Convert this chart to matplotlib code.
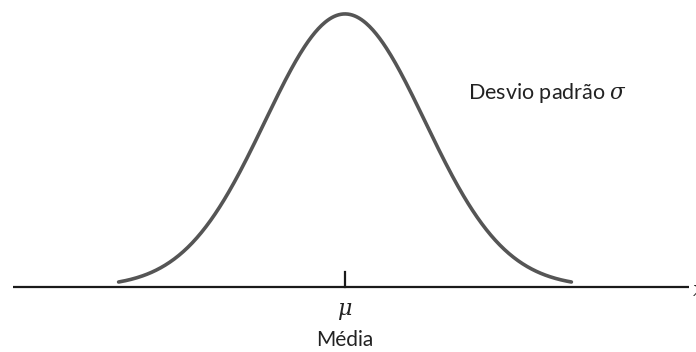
import numpy as np
import matplotlib
matplotlib.use("Agg")
import matplotlib.pyplot as plt

plt.rcParams["mathtext.fontset"] = "dejavuserif"

# normal curve parameters (standard units)
mu = 0.0
sigma = 1.0
z_span = [-2.83, 2.83]

axis_span = [-4.15, 4.3]
tick_height = 0.022

label_sigma = r"Desvio padrão $\sigma$"
label_mu = r"$\mu$"
label_mean = "Média"
label_x = r"$x$"

z = np.linspace(z_span[0], z_span[1], 400)
pdf = np.exp(-0.5 * ((z - mu) / sigma) ** 2) / (sigma * np.sqrt(2 * np.pi))

fig = plt.figure(figsize=(6.96, 3.52), dpi=100)
ax = fig.add_axes([0, 0, 1, 1])
ax.set_xlim(-4.3125, 4.3875)
ax.set_ylim(-0.095, 0.4193)
ax.axis("off")

# horizontal axis and mean tick
ax.plot(axis_span, [0, 0], color="#1a1a1a", lw=1.6, solid_capstyle="butt")
ax.plot([mu, mu], [0, tick_height], color="#1a1a1a", lw=1.6)

# bell curve
ax.plot(z, pdf, color="#555555", lw=2.6, solid_capstyle="round")

ax.text(1.54, 0.284, label_sigma, fontsize=15.5, family="Lato",
        color="#222222", ha="left", va="center")
ax.text(mu, -0.036, label_mu, fontsize=16, color="#222222",
        ha="center", va="center")
ax.text(mu, -0.077, label_mean, fontsize=15, family="Lato",
        color="#222222", ha="center", va="center")
ax.text(4.34, -0.004, label_x, fontsize=15, color="#222222",
        ha="left", va="center")

fig.savefig("out.png", dpi=100)
